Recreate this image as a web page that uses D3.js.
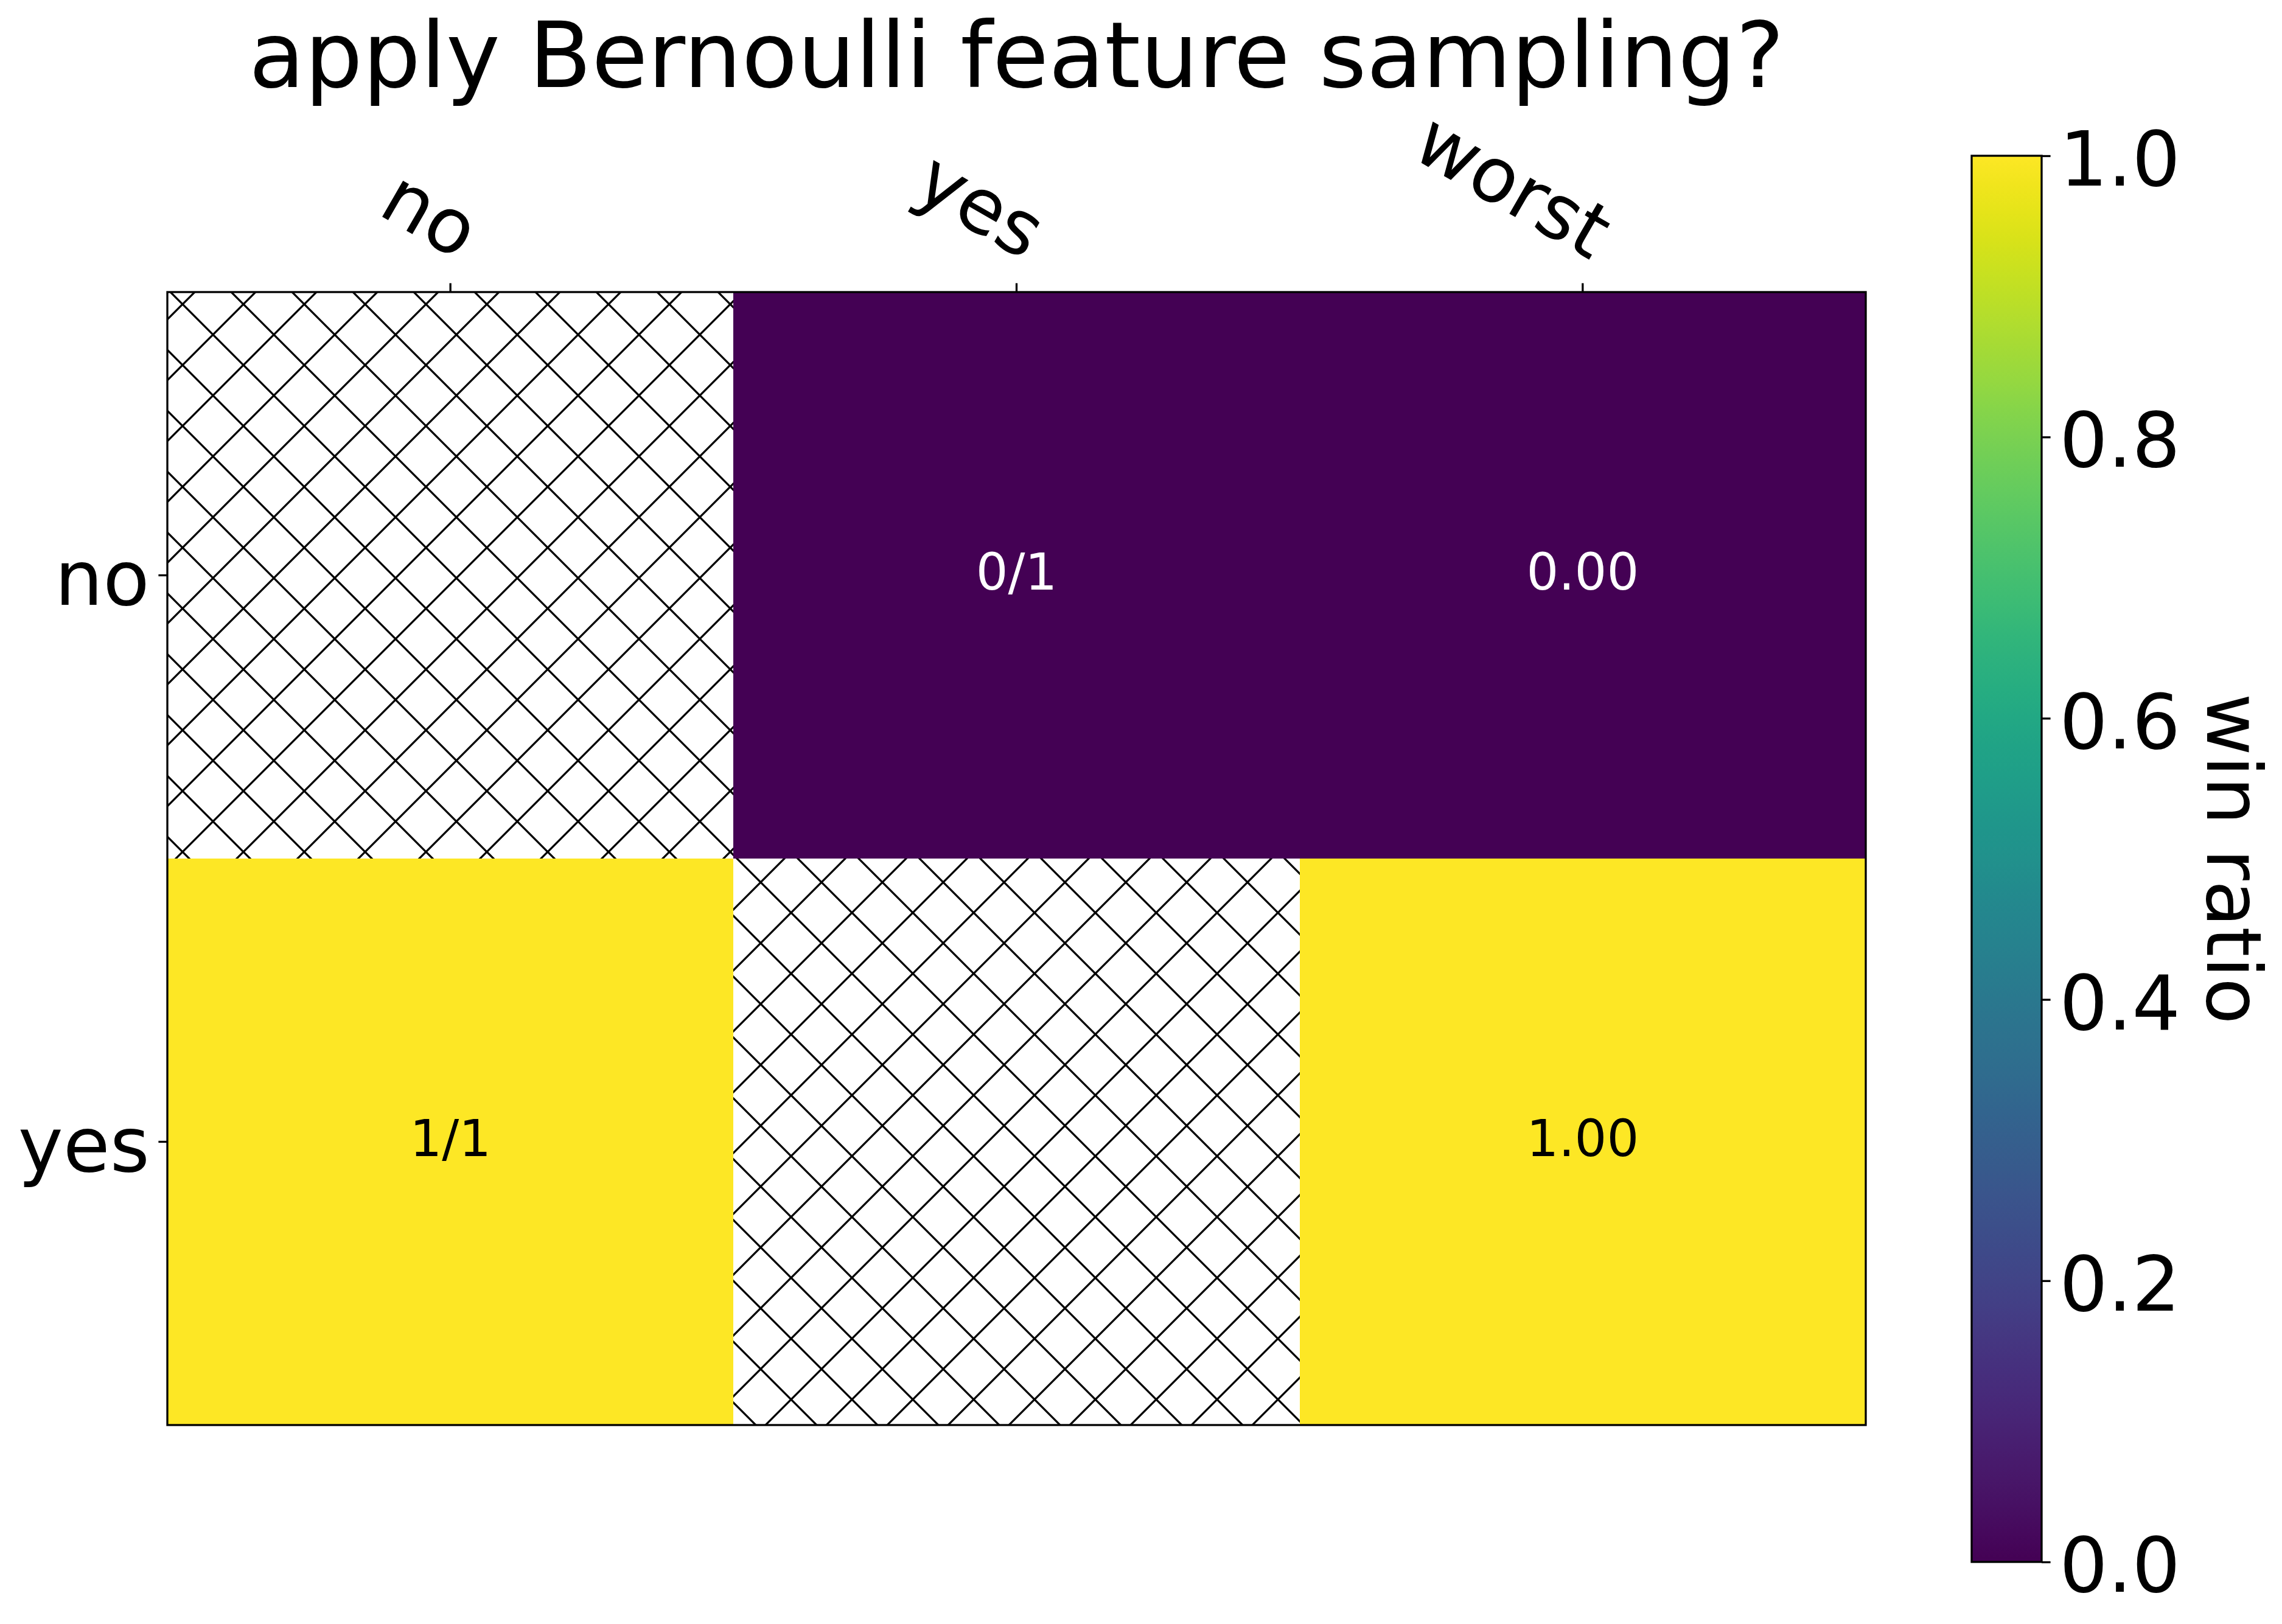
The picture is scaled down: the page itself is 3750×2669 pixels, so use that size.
<!DOCTYPE html>
<html>
<head>
<meta charset="utf-8">
<script src="https://cdn.jsdelivr.net/npm/d3@7"></script>
<style>
  html, body { margin: 0; padding: 0; background: #ffffff; }
  svg { display: block; }
  text { font-family: "DejaVu Sans", sans-serif; }
</style>
</head>
<body>
<script>
// ---------- data ----------
const chartTitle = "apply Bernoulli feature sampling?";
const rowLabels = ["no", "yes"];
const colLabels = ["no", "yes", "worst"];
// win ratio per cell (null = not applicable, drawn hatched)
const rowNo  = [null, 0, 0];
const rowYes = [1, null, 1];
const cellTextNo  = ["", "0/1", "0.00"];
const cellTextYes = ["1/1", "", "1.00"];
const colorbarTicks = [0, 0.2, 0.4, 0.6, 0.8, 1.0];
const colorbarLabel = "win ratio";

const values = [rowNo, rowYes];
const texts = [cellTextNo, cellTextYes];

// ---------- layout ----------
const W = 3750, H = 2669;
const plot = { left: 275, right: 3066, top: 480, bottom: 2342 };
const cbar = { left: 3240, right: 3355, top: 256, bottom: 2567 };
const tickLen = 14.6, tickPad = 14.6;
const tickFont = 125, cellFont = 83, titleFont = 150;

const svg = d3.select("body").append("svg")
  .attr("width", W).attr("height", H)
  .attr("xmlns", "http://www.w3.org/2000/svg");

svg.append("rect").attr("width", W).attr("height", H).attr("fill", "#ffffff");

const defs = svg.append("defs");

// hatch pattern ("x"), aligned to page coordinates
const pat = defs.append("pattern")
  .attr("id", "hatch")
  .attr("patternUnits", "userSpaceOnUse")
  .attr("x", 0).attr("y", 0)
  .attr("width", 100).attr("height", 100);
pat.append("rect").attr("width", 100).attr("height", 100).attr("fill", "#ffffff");
pat.append("path")
  .attr("d", "M0,0L100,100 M0,100L100,0 M90,-10L110,10 M-10,90L10,110 M-10,10L10,-10 M90,110L110,90")
  .attr("stroke", "#000000").attr("stroke-width", 3.3).attr("fill", "none");

// scales
const x = d3.scaleBand().domain(colLabels).range([plot.left, plot.right]).padding(0);
const y = d3.scaleBand().domain(rowLabels).range([plot.top, plot.bottom]).padding(0);
const color = d3.scaleSequential(d3.interpolateViridis).domain([0, 1]);

// hatched background (visible where data is missing)
svg.append("rect")
  .attr("x", plot.left).attr("y", plot.top)
  .attr("width", plot.right - plot.left).attr("height", plot.bottom - plot.top)
  .attr("fill", "url(#hatch)");

// cells
const cells = [];
rowLabels.forEach((r, i) => {
  colLabels.forEach((c, j) => {
    cells.push({ row: r, col: c, v: values[i][j], t: texts[i][j] });
  });
});

svg.append("g").selectAll("rect")
  .data(cells.filter(d => d.v !== null))
  .join("rect")
  .attr("x", d => x(d.col))
  .attr("y", d => y(d.row))
  .attr("width", x.bandwidth())
  .attr("height", y.bandwidth())
  .attr("fill", d => color(d.v))
  .attr("shape-rendering", "crispEdges");

svg.append("g").selectAll("text")
  .data(cells.filter(d => d.t !== ""))
  .join("text")
  .attr("x", d => x(d.col) + x.bandwidth() / 2)
  .attr("y", d => y(d.row) + y.bandwidth() / 2)
  .attr("dy", "0.28em")
  .attr("text-anchor", "middle")
  .attr("font-size", cellFont)
  .attr("fill", d => d.v > 0.5 ? "#000000" : "#ffffff")
  .text(d => d.t);

// frame
svg.append("rect")
  .attr("x", plot.left).attr("y", plot.top)
  .attr("width", plot.right - plot.left).attr("height", plot.bottom - plot.top)
  .attr("fill", "none").attr("stroke", "#000000").attr("stroke-width", 3.3);

// top x axis
const xAxis = svg.append("g")
  .attr("transform", `translate(0,${plot.top})`)
  .call(d3.axisTop(x).tickSize(tickLen).tickPadding(tickPad));
xAxis.select(".domain").remove();
xAxis.selectAll(".tick line").attr("stroke", "#000").attr("stroke-width", 3.3);
xAxis.selectAll(".tick text")
  .attr("font-size", tickFont)
  .attr("fill", "#000")
  .attr("text-anchor", "end")
  .attr("x", 0).attr("y", -0.208 * tickFont).attr("dy", null)
  .attr("transform", `translate(0,${-(tickLen + tickPad)}) rotate(30)`);

// left y axis
const yAxis = svg.append("g")
  .attr("transform", `translate(${plot.left},0)`)
  .call(d3.axisLeft(y).tickSize(tickLen).tickPadding(tickPad));
yAxis.select(".domain").remove();
yAxis.selectAll(".tick line").attr("stroke", "#000").attr("stroke-width", 3.3);
yAxis.selectAll(".tick text")
  .attr("font-size", tickFont).attr("fill", "#000").attr("dy", "0.39em");

// title
svg.append("text")
  .attr("x", (plot.left + plot.right) / 2)
  .attr("y", 143)
  .attr("text-anchor", "middle")
  .attr("font-size", titleFont)
  .attr("fill", "#000")
  .text(chartTitle);

// colorbar
const grad = defs.append("linearGradient")
  .attr("id", "viridisGrad")
  .attr("x1", 0).attr("y1", 1).attr("x2", 0).attr("y2", 0);
d3.range(0, 1.0001, 0.02).forEach(t => {
  grad.append("stop").attr("offset", t).attr("stop-color", d3.interpolateViridis(t));
});
svg.append("rect")
  .attr("x", cbar.left).attr("y", cbar.top)
  .attr("width", cbar.right - cbar.left).attr("height", cbar.bottom - cbar.top)
  .attr("fill", "url(#viridisGrad)")
  .attr("stroke", "#000").attr("stroke-width", 3.3);

const cbScale = d3.scaleLinear().domain([0, 1]).range([cbar.bottom, cbar.top]);
const cbAxis = svg.append("g")
  .attr("transform", `translate(${cbar.right},0)`)
  .call(d3.axisRight(cbScale).tickValues(colorbarTicks).tickFormat(d3.format(".1f"))
    .tickSize(tickLen).tickPadding(tickPad));
cbAxis.select(".domain").remove();
cbAxis.selectAll(".tick line").attr("stroke", "#000").attr("stroke-width", 3.3);
cbAxis.selectAll(".tick text")
  .attr("font-size", tickFont).attr("fill", "#000").attr("dy", "0.39em");

// colorbar label
svg.append("text")
  .attr("transform", `translate(3627,${(cbar.top + cbar.bottom) / 2}) rotate(90)`)
  .attr("text-anchor", "middle")
  .attr("font-size", tickFont)
  .attr("fill", "#000")
  .text(colorbarLabel);
</script>
</body>
</html>
